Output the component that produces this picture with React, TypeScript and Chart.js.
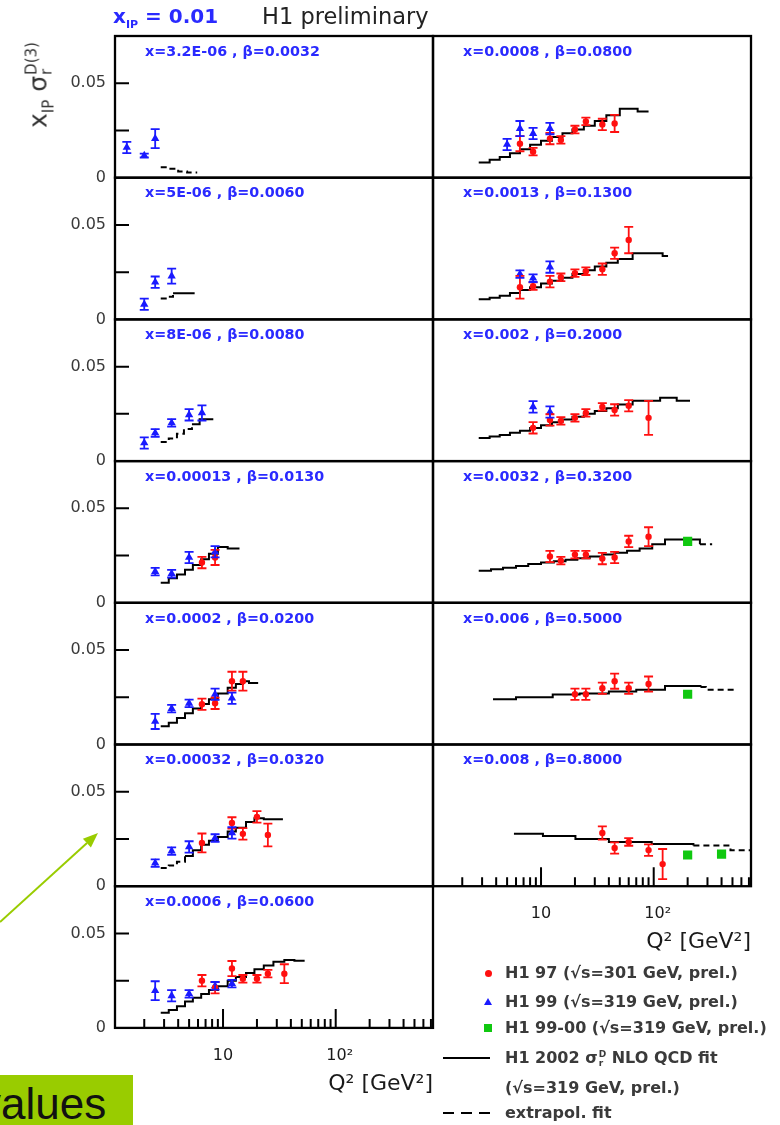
import React, { useEffect, useRef } from "react";
import { Chart, registerables } from "chart.js";
Chart.register(...registerables);

// ---------- axis definitions ----------
const Q2_MIN = 1.1;
const Q2_MAX = 730;
const Y_MAX = 0.075;
const yTickValues = [0.025, 0.05];
const yLabelValues = [0, 0.05];
const yTickLabels = ["0", "0.05"];
const xMajorTicks = [10, 100];
const xMajorLabels = ["10", "10²"];
const xMinorTicks = [2, 3, 4, 5, 6, 7, 8, 9, 20, 30, 40, 50, 60, 70, 80, 90, 200, 300, 400, 500, 600, 700];
const xAxisTitle = "Q² [GeV²]";

const panelLabels = [
  "x=3.2E-06 , β=0.0032",
  "x=5E-06 , β=0.0060",
  "x=8E-06 , β=0.0080",
  "x=0.00013 , β=0.0130",
  "x=0.0002 , β=0.0200",
  "x=0.00032 , β=0.0320",
  "x=0.0006 , β=0.0600",
  "x=0.0008 , β=0.0800",
  "x=0.0013 , β=0.1300",
  "x=0.002 , β=0.2000",
  "x=0.0032 , β=0.3200",
  "x=0.006 , β=0.5000",
  "x=0.008 , β=0.8000",
];

const legendLabels = [
  "H1 97 (√s=301 GeV, prel.)",
  "H1 99 (√s=319 GeV, prel.)",
  "H1 99-00 (√s=319 GeV, prel.)",
  "NLO QCD fit",
  "(√s=319 GeV, prel.)",
  "extrapol. fit",
];

// ---------- data (Q², x_IP σ_r, error) ----------
// L0
const L0_blueQ2 = [1.4, 2, 2.5];
const L0_blueY = [0.016, 0.0117, 0.0207];
const L0_blueErr = [0.003, 0.001, 0.005];
const L0_fitQ2 = [2.8, 3.3, 4.0, 4.8, 5.9];
const L0_fitY = [0.0055, 0.0048, 0.0033, 0.0028, 0.0028];
const L0_fitSolid = [0, 0];
// L1
const L1_blueQ2 = [2, 2.5, 3.5];
const L1_blueY = [0.008, 0.0197, 0.0229];
const L1_blueErr = [0.003, 0.003, 0.004];
const L1_fitQ2 = [2.8, 3.2, 3.6, 5.6];
const L1_fitY = [0.011, 0.012, 0.0138, 0.0138];
const L1_fitSolid = [2, 3];
// L2
const L2_blueQ2 = [2, 2.5, 3.5, 5, 6.5];
const L2_blueY = [0.0096, 0.0149, 0.0202, 0.0245, 0.0255];
const L2_blueErr = [0.003, 0.002, 0.002, 0.003, 0.004];
const L2_fitQ2 = [2.8, 3.3, 3.9, 4.5, 5.3, 6.2, 8.2];
const L2_fitY = [0.0101, 0.012, 0.0145, 0.017, 0.0195, 0.0222, 0.0222];
const L2_fitSolid = [4, 6];
// L3
const L3_blueQ2 = [2.5, 3.5, 5, 8.5];
const L3_blueY = [0.0165, 0.0154, 0.024, 0.027];
const L3_blueErr = [0.002, 0.002, 0.003, 0.003];
const L3_redQ2 = [6.5, 8.5];
const L3_redY = [0.0213, 0.024];
const L3_redErr = [0.003, 0.004];
const L3_fitQ2 = [2.8, 3.3, 3.9, 4.6, 5.4, 6.4, 7.5, 9, 11, 14];
const L3_fitY = [0.0106, 0.013, 0.015, 0.0175, 0.02, 0.023, 0.026, 0.0295, 0.0287, 0.0287];
const L3_fitSolid = [0, 9];
// L4
const L4_blueQ2 = [2.5, 3.5, 5, 8.5, 12];
const L4_blueY = [0.0122, 0.019, 0.0218, 0.0266, 0.0245];
const L4_blueErr = [0.004, 0.002, 0.002, 0.003, 0.003];
const L4_redQ2 = [6.5, 8.5, 12, 15];
const L4_redY = [0.0213, 0.0218, 0.0335, 0.0335];
const L4_redErr = [0.003, 0.003, 0.005, 0.005];
const L4_fitQ2 = [2.8, 3.3, 3.9, 4.6, 5.4, 6.4, 7.5, 9, 11, 13, 15, 17, 20.5];
const L4_fitY = [0.0096, 0.0115, 0.014, 0.0165, 0.019, 0.0215, 0.024, 0.027, 0.03, 0.032, 0.0335, 0.0325, 0.0325];
const L4_fitSolid = [0, 12];
// L5
const L5_blueQ2 = [2.5, 3.5, 5, 8.5, 12];
const L5_blueY = [0.0122, 0.0186, 0.0208, 0.0255, 0.0282];
const L5_blueErr = [0.002, 0.002, 0.003, 0.002, 0.003];
const L5_redQ2 = [6.5, 12, 15, 20, 25];
const L5_redY = [0.0229, 0.0335, 0.0277, 0.0367, 0.0271];
const L5_redErr = [0.005, 0.003, 0.003, 0.003, 0.006];
const L5_fitQ2 = [2.8, 3.3, 3.9, 4.6, 5.4, 6.4, 7.5, 9, 11, 13, 16, 19, 23, 34];
const L5_fitY = [0.0096, 0.011, 0.013, 0.016, 0.019, 0.022, 0.024, 0.026, 0.029, 0.031, 0.034, 0.036, 0.0355, 0.0355];
const L5_fitSolid = [3, 13];
// L6
const L6_blueQ2 = [2.5, 3.5, 5, 8.5, 12];
const L6_blueY = [0.0197, 0.017, 0.018, 0.0223, 0.0234];
const L6_blueErr = [0.005, 0.003, 0.002, 0.002, 0.002];
const L6_redQ2 = [6.5, 8.5, 12, 15, 20, 25, 35];
const L6_redY = [0.025, 0.0213, 0.0314, 0.026, 0.026, 0.0287, 0.0287];
const L6_redErr = [0.003, 0.003, 0.004, 0.002, 0.002, 0.002, 0.005];
const L6_fitQ2 = [2.8, 3.3, 3.9, 4.6, 5.4, 6.4, 7.5, 9, 11, 13, 16, 19, 23, 28, 35, 43, 53];
const L6_fitY = [0.008, 0.0095, 0.0115, 0.014, 0.016, 0.018, 0.02, 0.022, 0.025, 0.027, 0.029, 0.031, 0.033, 0.035, 0.036, 0.0355, 0.0355];
const L6_fitSolid = [0, 16];
// R0
const R0_blueQ2 = [5, 6.5, 8.5, 12];
const R0_blueY = [0.0176, 0.026, 0.0234, 0.026];
const R0_blueErr = [0.003, 0.004, 0.003, 0.003];
const R0_redQ2 = [6.5, 8.5, 12, 15, 20, 25, 35, 45];
const R0_redY = [0.018, 0.0138, 0.0207, 0.02, 0.0255, 0.0298, 0.0282, 0.0287];
const R0_redErr = [0.004, 0.002, 0.003, 0.002, 0.002, 0.002, 0.003, 0.0045];
const R0_fitQ2 = [2.8, 3.5, 4.3, 5.3, 6.5, 8, 10, 12.5, 15.5, 19, 24, 30, 38, 50, 72, 90];
const R0_fitY = [0.008, 0.0095, 0.011, 0.013, 0.015, 0.0175, 0.0195, 0.0215, 0.0235, 0.0255, 0.0275, 0.03, 0.033, 0.0365, 0.035, 0.035];
const R0_fitSolid = [0, 15];
// R1
const R1_blueQ2 = [6.5, 8.5, 12];
const R1_blueY = [0.024, 0.0218, 0.0277];
const R1_blueErr = [0.002, 0.002, 0.003];
const R1_redQ2 = [6.5, 8.5, 12, 15, 20, 25, 35, 45, 60];
const R1_redY = [0.017, 0.0176, 0.02, 0.0223, 0.0245, 0.0255, 0.0266, 0.035, 0.042];
const R1_redErr = [0.006, 0.002, 0.003, 0.002, 0.002, 0.002, 0.003, 0.003, 0.007];
const R1_fitQ2 = [2.8, 3.5, 4.3, 5.3, 6.5, 8, 10, 12.5, 15.5, 19, 24, 30, 38, 48, 65, 120, 134];
const R1_fitY = [0.0106, 0.0115, 0.0125, 0.014, 0.0155, 0.017, 0.019, 0.0205, 0.022, 0.024, 0.026, 0.028, 0.03, 0.032, 0.035, 0.0335, 0.0335];
const R1_fitSolid = [0, 16];
// R2
const R2_blueQ2 = [8.5, 12];
const R2_blueY = [0.0287, 0.026];
const R2_blueErr = [0.003, 0.003];
const R2_redQ2 = [8.5, 12, 15, 20, 25, 35, 45, 60, 90];
const R2_redY = [0.0176, 0.0218, 0.0213, 0.0229, 0.0255, 0.0287, 0.0271, 0.0293, 0.0229];
const R2_redErr = [0.003, 0.003, 0.002, 0.002, 0.002, 0.002, 0.003, 0.003, 0.009];
const R2_fitQ2 = [2.8, 3.5, 4.3, 5.3, 6.5, 8, 10, 12.5, 15.5, 19, 24, 30, 38, 48, 65, 114, 160, 210];
const R2_fitY = [0.0122, 0.013, 0.0138, 0.015, 0.016, 0.0175, 0.019, 0.0205, 0.022, 0.0235, 0.025, 0.0265, 0.028, 0.03, 0.032, 0.0335, 0.032, 0.032];
const R2_fitSolid = [0, 17];
// R3
const R3_redQ2 = [12, 15, 20, 25, 35, 45, 60, 90];
const R3_redY = [0.0245, 0.0223, 0.0255, 0.0255, 0.0234, 0.024, 0.0325, 0.035];
const R3_redErr = [0.003, 0.002, 0.002, 0.002, 0.003, 0.003, 0.003, 0.005];
const R3_greenQ2 = [200];
const R3_greenY = [0.0325];
const R3_fitQ2 = [2.8, 3.6, 4.6, 6, 7.7, 10, 13, 16.5, 21, 27, 35, 45, 58, 75, 97, 126, 257, 330];
const R3_fitY = [0.017, 0.0178, 0.0186, 0.0195, 0.0205, 0.0213, 0.022, 0.0228, 0.0236, 0.0245, 0.0255, 0.0265, 0.0275, 0.0287, 0.031, 0.0335, 0.031, 0.031];
const R3_fitSolid = [0, 16];
// R4
const R4_redQ2 = [20, 25, 35, 45, 60, 90];
const R4_redY = [0.0266, 0.0266, 0.0298, 0.0335, 0.0298, 0.032];
const R4_redErr = [0.003, 0.003, 0.003, 0.004, 0.003, 0.004];
const R4_greenQ2 = [200];
const R4_greenY = [0.0266];
const R4_fitQ2 = [3.75, 6, 12.7, 22, 40, 70, 126, 260, 290, 540];
const R4_fitY = [0.024, 0.025, 0.0265, 0.027, 0.028, 0.029, 0.031, 0.0305, 0.029, 0.029];
const R4_fitSolid = [0, 7];
// R5
const R5_redQ2 = [35, 45, 60, 90, 120];
const R5_redY = [0.0282, 0.0202, 0.0234, 0.0191, 0.0117];
const R5_redErr = [0.0035, 0.003, 0.002, 0.003, 0.008];
const R5_greenQ2 = [200, 400];
const R5_greenY = [0.0165, 0.017];
const R5_fitQ2 = [5.75, 10.4, 20.2, 40, 96, 225, 480, 730];
const R5_fitY = [0.0277, 0.0266, 0.025, 0.0234, 0.0223, 0.0215, 0.019, 0.019];
const R5_fitSolid = [0, 5];

// ---------- layout ----------
const ROW_H = 141.7;
const PANEL_W = 318;
const TOP0 = 36;
const COL_X = [115, 433];
const RED = "#ff1010";
const BLUE = "#1a1aff";
const GREEN = "#10c810";
const LABEL_BLUE = "#2a2aff";

type Series = { q: number[]; y: number[]; e: number[] | null };
const S = (q: number[], y: number[], e: number[] | null): Series => ({ q, y, e });
const EMPTY = S([], [], []);

type PanelSpec = {
  col: number; row: number; label: string;
  red: Series; blue: Series; green: Series;
  fitQ: number[]; fitY: number[]; solid: number[]; bottom: boolean;
};

const panels: PanelSpec[] = [
  { col: 0, row: 0, label: panelLabels[0], red: EMPTY, blue: S(L0_blueQ2, L0_blueY, L0_blueErr), green: EMPTY, fitQ: L0_fitQ2, fitY: L0_fitY, solid: L0_fitSolid, bottom: false },
  { col: 0, row: 1, label: panelLabels[1], red: EMPTY, blue: S(L1_blueQ2, L1_blueY, L1_blueErr), green: EMPTY, fitQ: L1_fitQ2, fitY: L1_fitY, solid: L1_fitSolid, bottom: false },
  { col: 0, row: 2, label: panelLabels[2], red: EMPTY, blue: S(L2_blueQ2, L2_blueY, L2_blueErr), green: EMPTY, fitQ: L2_fitQ2, fitY: L2_fitY, solid: L2_fitSolid, bottom: false },
  { col: 0, row: 3, label: panelLabels[3], red: S(L3_redQ2, L3_redY, L3_redErr), blue: S(L3_blueQ2, L3_blueY, L3_blueErr), green: EMPTY, fitQ: L3_fitQ2, fitY: L3_fitY, solid: L3_fitSolid, bottom: false },
  { col: 0, row: 4, label: panelLabels[4], red: S(L4_redQ2, L4_redY, L4_redErr), blue: S(L4_blueQ2, L4_blueY, L4_blueErr), green: EMPTY, fitQ: L4_fitQ2, fitY: L4_fitY, solid: L4_fitSolid, bottom: false },
  { col: 0, row: 5, label: panelLabels[5], red: S(L5_redQ2, L5_redY, L5_redErr), blue: S(L5_blueQ2, L5_blueY, L5_blueErr), green: EMPTY, fitQ: L5_fitQ2, fitY: L5_fitY, solid: L5_fitSolid, bottom: false },
  { col: 0, row: 6, label: panelLabels[6], red: S(L6_redQ2, L6_redY, L6_redErr), blue: S(L6_blueQ2, L6_blueY, L6_blueErr), green: EMPTY, fitQ: L6_fitQ2, fitY: L6_fitY, solid: L6_fitSolid, bottom: true },
  { col: 1, row: 0, label: panelLabels[7], red: S(R0_redQ2, R0_redY, R0_redErr), blue: S(R0_blueQ2, R0_blueY, R0_blueErr), green: EMPTY, fitQ: R0_fitQ2, fitY: R0_fitY, solid: R0_fitSolid, bottom: false },
  { col: 1, row: 1, label: panelLabels[8], red: S(R1_redQ2, R1_redY, R1_redErr), blue: S(R1_blueQ2, R1_blueY, R1_blueErr), green: EMPTY, fitQ: R1_fitQ2, fitY: R1_fitY, solid: R1_fitSolid, bottom: false },
  { col: 1, row: 2, label: panelLabels[9], red: S(R2_redQ2, R2_redY, R2_redErr), blue: S(R2_blueQ2, R2_blueY, R2_blueErr), green: EMPTY, fitQ: R2_fitQ2, fitY: R2_fitY, solid: R2_fitSolid, bottom: false },
  { col: 1, row: 3, label: panelLabels[10], red: S(R3_redQ2, R3_redY, R3_redErr), blue: EMPTY, green: S(R3_greenQ2, R3_greenY, null), fitQ: R3_fitQ2, fitY: R3_fitY, solid: R3_fitSolid, bottom: false },
  { col: 1, row: 4, label: panelLabels[11], red: S(R4_redQ2, R4_redY, R4_redErr), blue: EMPTY, green: S(R4_greenQ2, R4_greenY, null), fitQ: R4_fitQ2, fitY: R4_fitY, solid: R4_fitSolid, bottom: false },
  { col: 1, row: 5, label: panelLabels[12], red: S(R5_redQ2, R5_redY, R5_redErr), blue: EMPTY, green: S(R5_greenQ2, R5_greenY, null), fitQ: R5_fitQ2, fitY: R5_fitY, solid: R5_fitSolid, bottom: true },
];

const FONT = '"DejaVu Sans", "Liberation Sans", Arial, sans-serif';

function makePlugin(spec: PanelSpec) {
  return {
    id: "panelDeco",
    afterDatasetsDraw(chart: any) {
      const ctx = chart.ctx;
      const ys = chart.scales.y;
      chart.data.datasets.forEach((ds: any, di: number) => {
        const errs = ds.errors;
        if (!errs) return;
        const meta = chart.getDatasetMeta(di);
        meta.data.forEach((el: any, i: number) => {
          const v = ds.data[i].y;
          const e = errs[i];
          const y1 = ys.getPixelForValue(v + e);
          const y2 = ys.getPixelForValue(v - e);
          ctx.save();
          ctx.strokeStyle = ds.borderColor;
          ctx.lineWidth = 1.8;
          ctx.beginPath();
          ctx.moveTo(el.x, y1); ctx.lineTo(el.x, y2);
          ctx.moveTo(el.x - 4.5, y1); ctx.lineTo(el.x + 4.5, y1);
          ctx.moveTo(el.x - 4.5, y2); ctx.lineTo(el.x + 4.5, y2);
          ctx.stroke();
          ctx.restore();
        });
      });
    },
    afterDraw(chart: any) {
      const { ctx, chartArea: a } = chart;
      const xs = chart.scales.x;
      const ys = chart.scales.y;
      ctx.save();
      ctx.strokeStyle = "#000";
      ctx.lineWidth = 2.3;
      ctx.strokeRect(a.left, a.top, a.right - a.left, a.bottom - a.top);
      ctx.lineWidth = 2;
      if (spec.col === 0) {
        ctx.beginPath();
        yTickValues.forEach((v) => {
          const py = ys.getPixelForValue(v);
          ctx.moveTo(a.left, py);
          ctx.lineTo(a.left + 14, py);
        });
        ctx.stroke();
        ctx.fillStyle = "#3a3a3a";
        ctx.font = `16px ${FONT}`;
        ctx.textAlign = "right";
        ctx.textBaseline = "middle";
        yLabelValues.forEach((v, i) => {
          ctx.fillText(yTickLabels[i], a.left - 9, ys.getPixelForValue(v));
        });
      }
      if (spec.bottom) {
        ctx.beginPath();
        xMinorTicks.forEach((q) => {
          const px = xs.getPixelForValue(q);
          ctx.moveTo(px, a.bottom);
          ctx.lineTo(px, a.bottom - 9);
        });
        xMajorTicks.forEach((q) => {
          const px = xs.getPixelForValue(q);
          ctx.moveTo(px, a.bottom);
          ctx.lineTo(px, a.bottom - 19);
        });
        ctx.stroke();
        ctx.fillStyle = "#1a1a1a";
        ctx.font = `16px ${FONT}`;
        ctx.textAlign = "center";
        ctx.textBaseline = "middle";
        xMajorTicks.forEach((q, i) => {
          ctx.fillText(xMajorLabels[i], xs.getPixelForValue(q) + (i === 1 ? 4 : 0), a.bottom + 28);
        });
        ctx.font = `22px ${FONT}`;
        ctx.textAlign = "right";
        ctx.fillText(xAxisTitle, a.right, a.bottom + 56);
      }
      ctx.fillStyle = LABEL_BLUE;
      ctx.font = `bold 14.3px ${FONT}`;
      ctx.textAlign = "left";
      ctx.textBaseline = "middle";
      ctx.fillText(spec.label, a.left + 30, a.top + 16);
      ctx.restore();
    },
  };
}

function PanelChart({ spec }: { spec: PanelSpec }) {
  const ref = useRef<HTMLCanvasElement>(null);
  const colX = COL_X[spec.col];
  const padL = spec.col === 0 ? 115 : 10;
  const padR = 10;
  const rowTop = TOP0 + spec.row * ROW_H;
  const canvasTop = Math.floor(rowTop) - 10;
  const padT = rowTop - canvasTop;
  const height = Math.ceil(padT + ROW_H + (spec.bottom ? 80 : 12));
  const padB = height - padT - ROW_H;
  const width = padL + PANEL_W + padR;
  const left = colX - padL;

  useEffect(() => {
    const toPts = (s: Series) => s.q.map((q, i) => ({ x: q, y: s.y[i] }));
    const s0 = spec.solid[0];
    const s1 = spec.solid[1];
    const chart = new Chart(ref.current as HTMLCanvasElement, {
      type: "scatter",
      data: {
        datasets: [
          { label: "H1 97", data: toPts(spec.red), errors: spec.red.e, backgroundColor: RED, borderColor: RED, pointStyle: "circle", pointRadius: 3.2, pointBorderWidth: 0 } as any,
          { label: "H1 99", data: toPts(spec.blue), errors: spec.blue.e, backgroundColor: BLUE, borderColor: BLUE, pointStyle: "triangle", pointRadius: 4.8, pointBorderWidth: 0 } as any,
          { label: "H1 99-00", data: toPts(spec.green), errors: spec.green.e, backgroundColor: GREEN, borderColor: GREEN, pointStyle: "rect", pointRadius: 6.5, pointBorderWidth: 0 } as any,
          {
            label: "fit",
            data: spec.fitQ.map((q, i) => ({ x: q, y: spec.fitY[i] })),
            showLine: true,
            borderColor: "#000",
            borderWidth: 2,
            pointRadius: 0,
            stepped: true,
            fill: false,
            segment: {
              borderDash: (c: any) => (c.p0DataIndex >= s0 && c.p0DataIndex < s1 ? [] : [6, 4]),
            },
          } as any,
        ],
      },
      options: {
        responsive: false,
        animation: false,
        events: [],
        layout: { padding: { left: padL, right: padR, top: padT, bottom: padB } },
        plugins: { legend: { display: false }, title: { display: false }, tooltip: { enabled: false } },
        scales: {
          x: { type: "logarithmic", min: Q2_MIN, max: Q2_MAX, display: false },
          y: { type: "linear", min: 0, max: Y_MAX, display: false },
        },
      } as any,
      plugins: [makePlugin(spec)],
    });
    return () => chart.destroy();
  }, []);

  return (
    <canvas
      ref={ref}
      width={width}
      height={height}
      style={{ position: "absolute", left, top: canvasTop, width, height }}
    />
  );
}

const legendRows = [973, 1002, 1028, 1058, 1088, 1113];

export default function App() {
  const stack = (top: string, bottom: string, size: number) => (
    <span style={{ display: "inline-flex", flexDirection: "column", verticalAlign: "middle", fontSize: size, lineHeight: `${size}px`, marginLeft: 1 }}>
      <span>{top}</span>
      <span>{bottom}</span>
    </span>
  );
  return (
    <div style={{ position: "fixed", left: 0, top: 0, width: 780, height: 1125, background: "#fff", overflow: "hidden", fontFamily: FONT }}>
      {panels.map((p, i) => (
        <PanelChart key={i} spec={p} />
      ))}

      {/* title */}
      <div style={{ position: "absolute", left: 113, top: 4, font: `bold 20px ${FONT}`, color: LABEL_BLUE, whiteSpace: "nowrap", lineHeight: "24px" }}>
        x<span style={{ fontSize: 11, position: "relative", top: 5 }}>IP</span> = 0.01
      </div>
      <div style={{ position: "absolute", left: 262, top: 3, font: `22.5px ${FONT}`, color: "#222", whiteSpace: "nowrap", lineHeight: "26px" }}>
        H1 preliminary
      </div>

      {/* y axis title */}
      <div style={{ position: "absolute", left: 40, top: 85, transform: "translate(-50%,-50%) rotate(-90deg)", font: `25px ${FONT}`, color: "#333", whiteSpace: "nowrap", lineHeight: "30px" }}>
        x<span style={{ fontSize: 15, position: "relative", top: 7 }}>IP</span> σ{stack("D(3)", "r", 15)}
      </div>

      {/* legend */}
      <div style={{ position: "absolute", left: 485, top: legendRows[0] - 3.5, width: 7, height: 7, borderRadius: "50%", background: RED }} />
      <div style={{ position: "absolute", left: 484, top: legendRows[1] - 4, width: 0, height: 0, borderLeft: "4px solid transparent", borderRight: "4px solid transparent", borderBottom: `7px solid ${BLUE}` }} />
      <div style={{ position: "absolute", left: 484, top: legendRows[2] - 4, width: 8, height: 8, background: GREEN }} />
      <div style={{ position: "absolute", left: 443, top: legendRows[3] - 1, width: 47, height: 2, background: "#000" }} />
      {[443, 461, 479].map((x, i) => (
        <div key={i} style={{ position: "absolute", left: x, top: legendRows[5] - 1, width: 11, height: 2, background: "#000" }} />
      ))}
      {legendRows.map((y, i) => (
        <div key={i} style={{ position: "absolute", left: 505, top: y - 11, font: `bold 16px ${FONT}`, color: "#3a3a3a", whiteSpace: "nowrap", lineHeight: "22px" }}>
          {i === 3 ? (
            <>H1 2002 σ{stack("D", "r", 9)} {legendLabels[i]}</>
          ) : (
            legendLabels[i]
          )}
        </div>
      ))}

      {/* green annotation */}
      <svg style={{ position: "absolute", left: 0, top: 800 }} width={120} height={140}>
        <line x1={0} y1={122} x2={87} y2={43} stroke="#99cc00" strokeWidth={2} />
        <polygon points="98,33 90.9,47.5 82.9,38.7" fill="#99cc00" />
      </svg>
      <div style={{ position: "absolute", left: 0, top: 1075, width: 133, height: 50, background: "#99cc00", overflow: "hidden" }}>
        <span style={{ position: "absolute", left: -21, top: 4, font: `44px "Liberation Sans", Arial, sans-serif`, color: "#111", lineHeight: "50px", whiteSpace: "nowrap" }}>values</span>
      </div>
    </div>
  );
}
